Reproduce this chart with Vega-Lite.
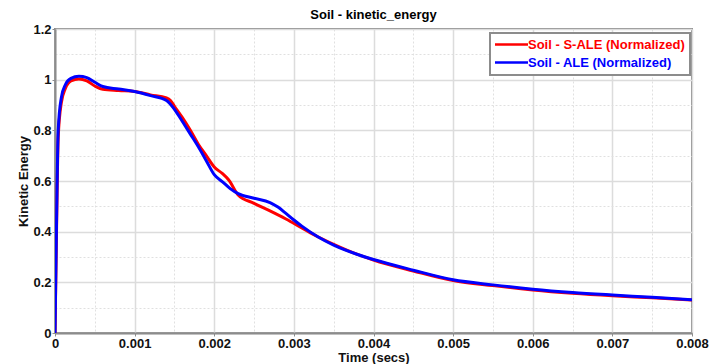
{
  "$schema": "https://vega.github.io/schema/vega-lite/v6.json",
  "width": 637,
  "height": 304,
  "autosize": {"type": "none"},
  "padding": {"left": 55, "top": 29, "right": 24, "bottom": 31},
  "background": "white",
  "title": {"text": "Soil - kinetic_energy", "font": "Liberation Sans", "fontSize": 13, "fontWeight": "bold", "color": "#000", "anchor": "middle", "baseline": "alphabetic", "offset": 9, "dy": 18},
  "config": {
    "view": {"stroke": "#8c8c8c", "strokeWidth": 2},
    "axis": {"labelFont": "Liberation Sans", "labelFontSize": 13, "labelFontWeight": "bold", "labelColor": "#111", "titleFont": "Liberation Sans", "titleFontSize": 13, "titleFontWeight": "bold", "titleColor": "#111", "domainColor": "#8c8c8c", "domainWidth": 2, "tickColor": "#8c8c8c", "labelFlush": false, "labelOverlap": false}
  },
  "data": {"values": [
    {"t": 0, "v": 0, "s": "Soil - S-ALE (Normalized)"},
    {"t": 0.00002, "v": 0.42, "s": "Soil - S-ALE (Normalized)"},
    {"t": 0.00004, "v": 0.77, "s": "Soil - S-ALE (Normalized)"},
    {"t": 0.00008, "v": 0.91, "s": "Soil - S-ALE (Normalized)"},
    {"t": 0.00013, "v": 0.965, "s": "Soil - S-ALE (Normalized)"},
    {"t": 0.0002, "v": 0.995, "s": "Soil - S-ALE (Normalized)"},
    {"t": 0.0003, "v": 1.003, "s": "Soil - S-ALE (Normalized)"},
    {"t": 0.0004, "v": 0.995, "s": "Soil - S-ALE (Normalized)"},
    {"t": 0.0005, "v": 0.975, "s": "Soil - S-ALE (Normalized)"},
    {"t": 0.0006, "v": 0.962, "s": "Soil - S-ALE (Normalized)"},
    {"t": 0.0008, "v": 0.957, "s": "Soil - S-ALE (Normalized)"},
    {"t": 0.001, "v": 0.953, "s": "Soil - S-ALE (Normalized)"},
    {"t": 0.0012, "v": 0.94, "s": "Soil - S-ALE (Normalized)"},
    {"t": 0.0014, "v": 0.928, "s": "Soil - S-ALE (Normalized)"},
    {"t": 0.00145, "v": 0.918, "s": "Soil - S-ALE (Normalized)"},
    {"t": 0.0015, "v": 0.895, "s": "Soil - S-ALE (Normalized)"},
    {"t": 0.0016, "v": 0.85, "s": "Soil - S-ALE (Normalized)"},
    {"t": 0.0017, "v": 0.8, "s": "Soil - S-ALE (Normalized)"},
    {"t": 0.0018, "v": 0.745, "s": "Soil - S-ALE (Normalized)"},
    {"t": 0.0019, "v": 0.7, "s": "Soil - S-ALE (Normalized)"},
    {"t": 0.002, "v": 0.655, "s": "Soil - S-ALE (Normalized)"},
    {"t": 0.0021, "v": 0.63, "s": "Soil - S-ALE (Normalized)"},
    {"t": 0.00218, "v": 0.605, "s": "Soil - S-ALE (Normalized)"},
    {"t": 0.0023, "v": 0.545, "s": "Soil - S-ALE (Normalized)"},
    {"t": 0.0025, "v": 0.512, "s": "Soil - S-ALE (Normalized)"},
    {"t": 0.0027, "v": 0.482, "s": "Soil - S-ALE (Normalized)"},
    {"t": 0.0029, "v": 0.45, "s": "Soil - S-ALE (Normalized)"},
    {"t": 0.0031, "v": 0.415, "s": "Soil - S-ALE (Normalized)"},
    {"t": 0.0033, "v": 0.38, "s": "Soil - S-ALE (Normalized)"},
    {"t": 0.0035, "v": 0.35, "s": "Soil - S-ALE (Normalized)"},
    {"t": 0.0038, "v": 0.31, "s": "Soil - S-ALE (Normalized)"},
    {"t": 0.004, "v": 0.288, "s": "Soil - S-ALE (Normalized)"},
    {"t": 0.0045, "v": 0.245, "s": "Soil - S-ALE (Normalized)"},
    {"t": 0.005, "v": 0.207, "s": "Soil - S-ALE (Normalized)"},
    {"t": 0.0055, "v": 0.187, "s": "Soil - S-ALE (Normalized)"},
    {"t": 0.006, "v": 0.17, "s": "Soil - S-ALE (Normalized)"},
    {"t": 0.0065, "v": 0.157, "s": "Soil - S-ALE (Normalized)"},
    {"t": 0.007, "v": 0.147, "s": "Soil - S-ALE (Normalized)"},
    {"t": 0.0075, "v": 0.139, "s": "Soil - S-ALE (Normalized)"},
    {"t": 0.008, "v": 0.13, "s": "Soil - S-ALE (Normalized)"},
    {"t": 0, "v": 0, "s": "Soil - ALE (Normalized)"},
    {"t": 0.00002, "v": 0.45, "s": "Soil - ALE (Normalized)"},
    {"t": 0.00004, "v": 0.8, "s": "Soil - ALE (Normalized)"},
    {"t": 0.00008, "v": 0.93, "s": "Soil - ALE (Normalized)"},
    {"t": 0.00013, "v": 0.98, "s": "Soil - ALE (Normalized)"},
    {"t": 0.0002, "v": 1.005, "s": "Soil - ALE (Normalized)"},
    {"t": 0.0003, "v": 1.013, "s": "Soil - ALE (Normalized)"},
    {"t": 0.0004, "v": 1.008, "s": "Soil - ALE (Normalized)"},
    {"t": 0.0005, "v": 0.99, "s": "Soil - ALE (Normalized)"},
    {"t": 0.0006, "v": 0.973, "s": "Soil - ALE (Normalized)"},
    {"t": 0.0008, "v": 0.963, "s": "Soil - ALE (Normalized)"},
    {"t": 0.001, "v": 0.953, "s": "Soil - ALE (Normalized)"},
    {"t": 0.0012, "v": 0.937, "s": "Soil - ALE (Normalized)"},
    {"t": 0.0014, "v": 0.918, "s": "Soil - ALE (Normalized)"},
    {"t": 0.0015, "v": 0.883, "s": "Soil - ALE (Normalized)"},
    {"t": 0.0016, "v": 0.835, "s": "Soil - ALE (Normalized)"},
    {"t": 0.0017, "v": 0.785, "s": "Soil - ALE (Normalized)"},
    {"t": 0.0018, "v": 0.735, "s": "Soil - ALE (Normalized)"},
    {"t": 0.0019, "v": 0.68, "s": "Soil - ALE (Normalized)"},
    {"t": 0.002, "v": 0.625, "s": "Soil - ALE (Normalized)"},
    {"t": 0.0021, "v": 0.598, "s": "Soil - ALE (Normalized)"},
    {"t": 0.0022, "v": 0.57, "s": "Soil - ALE (Normalized)"},
    {"t": 0.0023, "v": 0.55, "s": "Soil - ALE (Normalized)"},
    {"t": 0.0025, "v": 0.532, "s": "Soil - ALE (Normalized)"},
    {"t": 0.0027, "v": 0.515, "s": "Soil - ALE (Normalized)"},
    {"t": 0.0028, "v": 0.497, "s": "Soil - ALE (Normalized)"},
    {"t": 0.0029, "v": 0.472, "s": "Soil - ALE (Normalized)"},
    {"t": 0.003, "v": 0.446, "s": "Soil - ALE (Normalized)"},
    {"t": 0.0031, "v": 0.422, "s": "Soil - ALE (Normalized)"},
    {"t": 0.0033, "v": 0.38, "s": "Soil - ALE (Normalized)"},
    {"t": 0.0035, "v": 0.347, "s": "Soil - ALE (Normalized)"},
    {"t": 0.0038, "v": 0.31, "s": "Soil - ALE (Normalized)"},
    {"t": 0.004, "v": 0.29, "s": "Soil - ALE (Normalized)"},
    {"t": 0.0045, "v": 0.248, "s": "Soil - ALE (Normalized)"},
    {"t": 0.005, "v": 0.21, "s": "Soil - ALE (Normalized)"},
    {"t": 0.0055, "v": 0.19, "s": "Soil - ALE (Normalized)"},
    {"t": 0.006, "v": 0.173, "s": "Soil - ALE (Normalized)"},
    {"t": 0.0065, "v": 0.16, "s": "Soil - ALE (Normalized)"},
    {"t": 0.007, "v": 0.15, "s": "Soil - ALE (Normalized)"},
    {"t": 0.0075, "v": 0.141, "s": "Soil - ALE (Normalized)"},
    {"t": 0.008, "v": 0.131, "s": "Soil - ALE (Normalized)"}
  ]},
  "mark": {"type": "line", "strokeWidth": 3, "interpolate": "monotone", "clip": true},
  "encoding": {
    "x": {"field": "t", "type": "quantitative", "scale": {"domain": [0, 0.008], "nice": false},
      "axis": {"title": "Time (secs)", "values": [0,0.0005,0.001,0.0015,0.002,0.0025,0.003,0.0035,0.004,0.0045,0.005,0.0055,0.006,0.0065,0.007,0.0075,0.008],
        "labelExpr": "round(datum.value*10000)%10==5 ? '' : format(datum.value, '~g')",
        "gridDash": {"condition": {"test": "round(datum.value*10000)%10==5", "value": [2, 2]}, "value": []},
        "gridColor": {"condition": {"test": "round(datum.value*10000)%10==5", "value": "#e0e0e0"}, "value": "#dcdcdc"},
        "gridWidth": {"condition": {"test": "round(datum.value*10000)%10==5", "value": 1}, "value": 1.5},
        "tickOpacity": {"condition": {"test": "round(datum.value*10000)%10==5", "value": 0}, "value": 1},
        "tickSize": 3, "labelPadding": 1, "titlePadding": 1}},
    "y": {"field": "v", "type": "quantitative", "scale": {"domain": [0, 1.2], "nice": false},
      "axis": {"title": "Kinetic Energy", "values": [0,0.1,0.2,0.3,0.4,0.5,0.6,0.7,0.8,0.9,1,1.1,1.2],
        "labelExpr": "round(datum.value*10)%2==1 ? '' : format(datum.value, '~g')",
        "gridDash": {"condition": {"test": "round(datum.value*10)%2==1", "value": [2, 2]}, "value": []},
        "gridColor": {"condition": {"test": "round(datum.value*10)%2==1", "value": "#e0e0e0"}, "value": "#dcdcdc"},
        "gridWidth": {"condition": {"test": "round(datum.value*10)%2==1", "value": 1}, "value": 1.5},
        "tickOpacity": {"condition": {"test": "round(datum.value*10)%2==1", "value": 0}, "value": 1},
        "tickSize": 3, "labelPadding": 1, "titlePadding": 2}},
    "color": {"field": "s", "type": "nominal", "sort": null,
      "scale": {"domain": ["Soil - S-ALE (Normalized)", "Soil - ALE (Normalized)"], "range": ["#ff0000", "#0000ff"]},
      "legend": {"title": null, "orient": "none", "legendX": 435, "legendY": 4, "symbolType": "M-3.3,0H3.3", "symbolSize": 100, "symbolStrokeWidth": 2.5, "symbolOffset": 10,
        "labelFont": "Liberation Sans", "labelFontSize": 13, "labelFontWeight": "bold", "labelOffset": 10,
        "strokeColor": "#8c8c8c", "fillColor": "white", "padding": 5, "rowPadding": 4,
        "encode": {"labels": {"update": {"fill": {"scale": "color", "field": "value"}}}, "legend": {"update": {"strokeWidth": {"value": 2}}}}}}
  }
}
